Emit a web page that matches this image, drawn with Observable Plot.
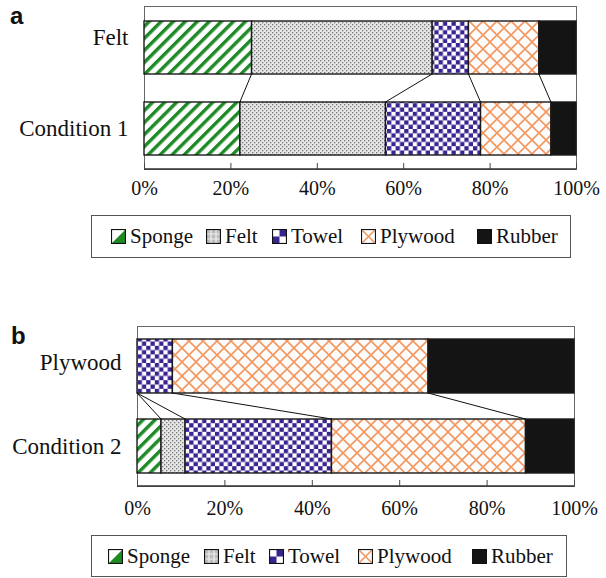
<!DOCTYPE html>
<html>
<head>
<meta charset="utf-8">
<script src="https://cdn.jsdelivr.net/npm/d3@7"></script>
<script src="https://cdn.jsdelivr.net/npm/@observablehq/plot@0.6"></script>
<style>
  body { margin: 0; background: #fff; font-family: "Liberation Serif", "Times New Roman", serif; }
  #root { position: relative; width: 606px; height: 578px; overflow: hidden; background: #fff; color: #111; }
  .tag { position: absolute; font-family: "Liberation Sans", Arial, sans-serif; font-weight: bold; font-size: 24px; line-height: 1; }
  .panel { position: absolute; left: 0; }
  .legend { position: absolute; box-sizing: border-box; border: 1.5px solid #555; background: #fff; }
  .legend .item { position: absolute; top: 0; bottom: 0; display: flex; align-items: center;
                  font-family: "Liberation Serif", "Times New Roman", serif; font-size: 21px; white-space: nowrap; }
  .legend svg { margin-right: 4px; }
</style>
</head>
<body>
<!-- shared fill patterns for the material segments -->
<svg width="0" height="0" style="position:absolute">
  <defs>
    <pattern id="sponge" patternUnits="userSpaceOnUse" width="8.5" height="8.5" patternTransform="rotate(45)">
      <rect width="8.5" height="8.5" fill="#fff"/>
      <rect width="3.4" height="8.5" fill="#1e8a26"/>
    </pattern>
    <pattern id="felt" patternUnits="userSpaceOnUse" width="4" height="4">
      <rect width="4" height="4" fill="#e6e6e6"/>
      <rect x="0" y="0" width="1.3" height="1.3" fill="#777"/>
      <rect x="2" y="2" width="1.3" height="1.3" fill="#777"/>
    </pattern>
    <pattern id="towel" patternUnits="userSpaceOnUse" width="8.6" height="8.6">
      <rect width="8.6" height="8.6" fill="#fff"/>
      <rect width="4.3" height="4.3" fill="#3b2391"/>
      <rect x="4.3" y="4.3" width="4.3" height="4.3" fill="#3b2391"/>
    </pattern>
    <pattern id="plywood" patternUnits="userSpaceOnUse" width="14" height="14">
      <rect width="14" height="14" fill="#fcfcfc"/>
      <path d="M0,0L14,14M14,0L0,14" stroke="#f4975f" stroke-width="1.6"/>
    </pattern>
  </defs>
</svg>

<div id="root"></div>

<script>
// Material shares (%) of each surface, stacked left to right
const seriesNames = ["Sponge", "Felt", "Towel", "Plywood", "Rubber"];

const rowsA = ["Felt", "Condition 1"];
const feltShares = [24.9, 41.8, 8.4, 16.3, 8.6];
const condition1Shares = [22.2, 33.7, 22.0, 16.3, 5.8];

const rowsB = ["Plywood", "Condition 2"];
const plywoodShares = [0, 0, 8.1, 58.5, 33.4];
const condition2Shares = [5.5, 5.5, 33.5, 44.4, 11.1];

const xTicks = [0, 20, 40, 60, 80, 100];

// Fills for each material, in series order
const materialFills = ["url(#sponge)", "url(#felt)", "url(#towel)", "url(#plywood)", "#141414"];

const SERIF = "Liberation Serif";

function toTable(rows, shares) {
  return rows.flatMap((row, i) =>
    seriesNames.map((series, j) => ({row, series, share: shares[i][j]})));
}

// Lines joining the segment boundaries of the upper bar to those of the lower bar
function connectors(rows, shares) {
  const cum = shares.map(v => Array.from(d3.cumsum(v)));
  const links = d3.range(seriesNames.length - 1).map(j => ({from: cum[0][j], to: cum[1][j]}));
  return (index, scales) => {
    const y = scales.y;
    const bw = typeof y.bandwidth === "function" ? y.bandwidth() : 0;
    const g = d3.create("svg:g");
    g.selectAll("line").data(links).join("line")
      .attr("x1", d => scales.x(d.from)).attr("y1", y(rows[0]) + bw)
      .attr("x2", d => scales.x(d.to)).attr("y2", y(rows[1]))
      .attr("stroke", "#111").attr("stroke-width", 1);
    return g.node();
  };
}

// Darker baseline along the bottom of the plot frame
function baseline(index, scales, values, dims) {
  const yb = dims.height - dims.marginBottom;
  return d3.create("svg:line")
    .attr("x1", dims.marginLeft).attr("x2", dims.width - dims.marginRight)
    .attr("y1", yb).attr("y2", yb)
    .attr("stroke", "#333").attr("stroke-width", 1.5).node();
}

function panel({rows, shares, marginLeft, marginRight, height, marginBottom, paddingInner, paddingOuter, labelPad, firstDy}) {
  const svg = Plot.plot({
    width: 606,
    height,
    marginTop: 6,
    marginBottom,
    marginLeft,
    marginRight,
    style: `font-family: ${SERIF}, serif; color: #111; background: transparent; overflow: visible;`,
    x: {domain: [0, 100]},
    y: {domain: rows, paddingInner, paddingOuter},
    color: {domain: seriesNames, range: materialFills},
    marks: [
      Plot.frame({stroke: "#666", strokeWidth: 1}),
      Plot.barX(toTable(rows, shares), Plot.stackX({
        y: "row", x: "share", fill: "series", order: seriesNames,
        stroke: "#1a1a1a", strokeWidth: 1.4
      })),
      connectors(rows, shares),
      baseline,
      Plot.axisX({ticks: xTicks, tickFormat: d => d + "%", tickSize: -6, tickPadding: labelPad,
                  fontSize: 20, fontFamily: SERIF, stroke: "#444", label: null}),
      Plot.axisY({ticks: [rows[0]], tickSize: 0, tickPadding: 16, fontSize: 23, fontFamily: SERIF, dy: firstDy, label: null}),
      Plot.axisY({ticks: [rows[1]], tickSize: 0, tickPadding: 16, fontSize: 23, fontFamily: SERIF, label: null})
    ]
  });
  svg.setAttribute("font-family", SERIF);
  return svg;
}

function swatch(name) {
  const s = d3.create("svg").attr("width", 15).attr("height", 15);
  const inner = s.append("g").attr("transform", "translate(0.5,0.5)");
  if (name === "Sponge") {
    inner.append("rect").attr("width", 14).attr("height", 14).attr("fill", "#fff");
    inner.append("path").attr("d", "M14,0L14,14L0,14Z").attr("fill", "#1e8a26");
  } else if (name === "Felt") {
    inner.append("rect").attr("width", 14).attr("height", 14).attr("fill", "#bdbdbd");
    inner.append("path").attr("d", "M4.5,0V14M9.5,0V14M0,4.5H14M0,9.5H14").attr("stroke", "#eee").attr("stroke-width", 1.2);
  } else if (name === "Towel") {
    inner.append("rect").attr("width", 14).attr("height", 14).attr("fill", "#fff");
    inner.append("rect").attr("x", 7).attr("width", 7).attr("height", 7).attr("fill", "#3b2391");
    inner.append("rect").attr("y", 7).attr("width", 7).attr("height", 7).attr("fill", "#3b2391");
  } else if (name === "Plywood") {
    inner.append("rect").attr("width", 14).attr("height", 14).attr("fill", "#fff");
    inner.append("path").attr("d", "M1,1L13,13M13,1L1,13").attr("stroke", "#f4975f").attr("stroke-width", 1.6);
  } else {
    inner.append("rect").attr("width", 14).attr("height", 14).attr("fill", "#141414");
  }
  inner.append("rect").attr("width", 14).attr("height", 14).attr("fill", "none").attr("stroke", "#111").attr("stroke-width", 1.2);
  return s.node();
}

function legend({left, top, width, height, offsets}) {
  const box = document.createElement("div");
  box.className = "legend";
  Object.assign(box.style, {left: left + "px", top: top + "px", width: width + "px", height: height + "px"});
  seriesNames.forEach((name, i) => {
    const item = document.createElement("div");
    item.className = "item";
    item.style.left = offsets[i] + "px";
    item.appendChild(swatch(name));
    item.appendChild(document.createTextNode(name));
    box.appendChild(item);
  });
  return box;
}

const root = document.getElementById("root");

const tagA = document.createElement("div");
tagA.className = "tag"; tagA.textContent = "a";
Object.assign(tagA.style, {left: "10px", top: "4px"});
root.appendChild(tagA);

const chartA = panel({rows: rowsA, shares: [feltShares, condition1Shares], marginLeft: 144, marginRight: 30,
  height: 205, marginBottom: 36, paddingInner: 0.35, paddingOuter: 0.175, labelPad: 17.5, firstDy: -10});
chartA.classList.add("panel"); chartA.style.top = "0px";
root.appendChild(chartA);

root.appendChild(legend({left: 91, top: 215, width: 480, height: 43, offsets: [19, 114, 180, 269, 385]}));

const tagB = document.createElement("div");
tagB.className = "tag"; tagB.textContent = "b";
Object.assign(tagB.style, {left: "11px", top: "324px"});
root.appendChild(tagB);

const chartB = panel({rows: rowsB, shares: [plywoodShares, condition2Shares], marginLeft: 137, marginRight: 32,
  height: 202, marginBottom: 36, paddingInner: 0.33, paddingOuter: 0.165, labelPad: 20.5, firstDy: -4});
chartB.classList.add("panel"); chartB.style.top = "320px";
root.appendChild(chartB);

root.appendChild(legend({left: 91, top: 535, width: 476, height: 42, offsets: [16, 112, 177, 266, 380]}));
</script>
</body>
</html>
